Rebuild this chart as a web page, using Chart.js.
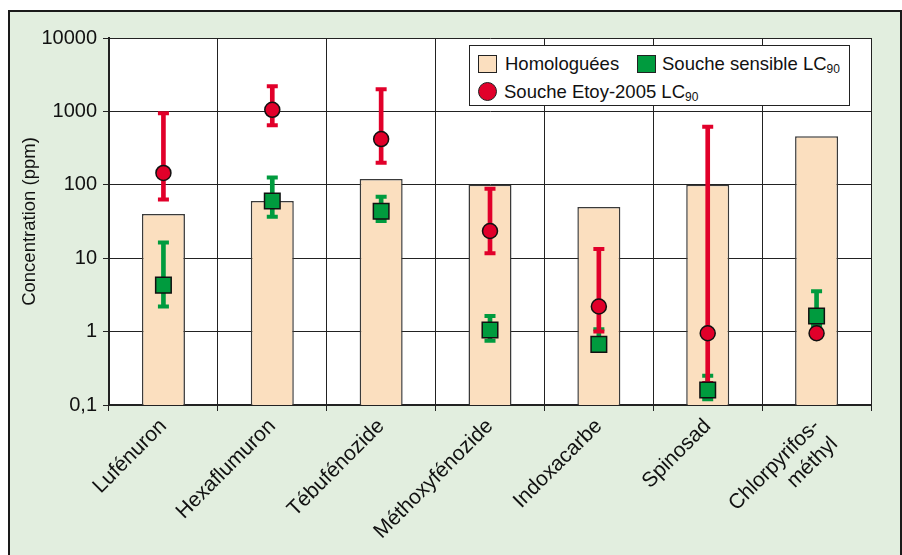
<!DOCTYPE html>
<html>
<head>
<meta charset="utf-8">
<script src="https://cdn.jsdelivr.net/npm/chart.js@4.4.0/dist/chart.umd.min.js"></script>
<style>
  html, body { margin: 0; padding: 0; background: #fff; }
  #wrap { position: relative; width: 902px; height: 555px; overflow: hidden;
          font-family: "Liberation Sans", Arial, sans-serif; }
  #frame { position: absolute; left: 8px; top: 10px; width: 890px; height: 570px;
           background: #e2eedf; border: 2px solid #1a1a1a; }
  #chart { position: absolute; left: 0; top: 0; }
  #legend { position: absolute; left: 469px; top: 45px; width: 379px; height: 59px;
            background: #fff; border: 1.5px solid #222; }
  .item { position: absolute; font-size: 18.5px; color: #111; line-height: 20px; white-space: nowrap; }
  .item sub { font-size: 12px; vertical-align: -3px; line-height: 0; }
  .sw { position: absolute; box-sizing: border-box; border: 1.5px solid #222; }
</style>
</head>
<body>
<div id="wrap">
  <div id="frame"></div>
  <canvas id="chart" width="902" height="555"></canvas>
  <div id="legend"></div>
</div>
<script>
// categories and values (ppm)
var categories = ["Lufénuron", "Hexaflumuron", "Tébufénozide", "Méthoxyfénozide",
                  "Indoxacarbe", "Spinosad", ["Chlorpyrifos-", "méthyl"]];
var homologuees = [40, 60, 120, 100, 50, 100, 460];
var sensible = [4.3, 60, 43.5, 1.05, 0.67, 0.16, 1.63];
var sensibleLow = [2.2, 36.7, 32, 0.75, 0.6, 0.12, 1.2];
var sensibleHigh = [16.4, 126, 69, 1.63, 1.08, 0.25, 3.54];
var etoy = [145, 1050, 420, 23.5, 2.2, 0.95, 0.95];
var etoyLow = [63, 650, 200, 11.7, 1.0, 0.2, null];
var etoyHigh = [940, 2200, 2000, 88, 13.3, 620, null];
var yTickValues = [0.1, 1, 10, 100, 1000, 10000];
var yTickLabels = ["0,1", "1", "10", "100", "1000", "10000"];
var seriesLabels = ["Homologuées", "Souche sensible LC", "Souche Etoy-2005 LC"];

const PEACH = "#fbdfbf";
const GREEN = "#009b3e";
const RED = "#e1002a";
const FONT = "'Liberation Sans', Arial, sans-serif";

function ranges(lo, hi) {
  return lo.map((l, i) => (l == null ? null : [l, hi[i]]));
}

// white plot area
const plotBackground = {
  id: "plotBackground",
  beforeDraw(chart) {
    const a = chart.chartArea;
    chart.ctx.save();
    chart.ctx.fillStyle = "#fff";
    chart.ctx.fillRect(a.left, a.top, a.right - a.left, a.bottom - a.top);
    chart.ctx.restore();
  }
};

function capSet(data, color, order) {
  return {
    type: "line", data: data, showLine: false, order: order,
    pointStyle: "line", pointRadius: 5.5, pointHoverRadius: 5.5,
    pointBorderWidth: 4, borderColor: color, pointBorderColor: color
  };
}

const chart = new Chart(document.getElementById("chart"), {
  type: "bar",
  data: {
    labels: categories,
    datasets: [
      {
        label: seriesLabels[0], data: homologuees, order: 10, grouped: false,
        backgroundColor: PEACH, borderColor: "#3a3a3a", borderWidth: 1.5,
        barPercentage: 0.5, categoryPercentage: 0.79
      },
      // green error bars
      { type: "bar", data: ranges(sensibleLow, sensibleHigh), order: 9, grouped: false,
        backgroundColor: GREEN, barThickness: 4 },
      capSet(sensibleHigh, GREEN, 8),
      capSet(sensibleLow, GREEN, 8),
      // red error bars
      { type: "bar", data: ranges(etoyLow, etoyHigh), order: 7, grouped: false,
        backgroundColor: RED, barThickness: 4 },
      capSet(etoyHigh, RED, 6),
      capSet(etoyLow, RED, 6),
      {
        type: "line", label: seriesLabels[1], data: sensible, showLine: false, order: 5,
        pointStyle: "rect", pointRadius: 11, pointHoverRadius: 11,
        backgroundColor: GREEN, borderColor: "#111", borderWidth: 1.5
      },
      {
        type: "line", label: seriesLabels[2], data: etoy, showLine: false, order: 4,
        pointStyle: "circle", pointRadius: 7.5, pointHoverRadius: 7.5,
        backgroundColor: RED, borderColor: "#111", borderWidth: 1.5
      }
    ]
  },
  options: {
    responsive: false,
    animation: false,
    layout: { padding: { left: 12, top: 38, right: 31, bottom: 0 } },
    plugins: { legend: { display: false }, tooltip: { enabled: false } },
    scales: {
      x: {
        type: "category",
        offset: true,
        afterFit: (scale) => { scale.height = 150; },
        grid: { offset: true, color: "#222", lineWidth: 1, tickLength: 6 },
        border: { color: "#222", width: 2 },
        ticks: {
          autoSkip: false, maxRotation: 45, minRotation: 45, padding: 3,
          color: "#111", font: { family: FONT, size: 21 }
        }
      },
      y: {
        type: "logarithmic",
        min: 0.1, max: 10000,
        afterFit: (scale) => { scale.width = 97; },
        afterBuildTicks: (scale) => { scale.ticks = yTickValues.map((v) => ({ value: v })); },
        grid: { color: "#222", lineWidth: 1, tickLength: 6 },
        border: { color: "#222", width: 2 },
        ticks: {
          padding: 6, color: "#111", font: { family: FONT, size: 20 },
          callback: (value, index) => yTickLabels[index]
        },
        title: {
          display: true, text: "Concentration (ppm)", color: "#111",
          font: { family: FONT, size: 18.5 }, padding: { top: 7, bottom: 0 }
        }
      }
    }
  },
  plugins: [plotBackground]
});

// legend box, drawn in HTML so the LC90 subscripts stay real text
(function buildLegend() {
  const box = document.getElementById("legend");
  const entries = [
    { text: seriesLabels[0], sub: "", x: 8, y: 8, kind: "rect", color: PEACH, tx: 35 },
    { text: seriesLabels[1], sub: "90", x: 167, y: 8, kind: "rect", color: GREEN, tx: 192 },
    { text: seriesLabels[2], sub: "90", x: 8, y: 36, kind: "circle", color: RED, tx: 34 }
  ];
  entries.forEach((e) => {
    const sw = document.createElement("div");
    sw.className = "sw";
    sw.style.background = e.color;
    if (e.kind == "rect") {
      sw.style.left = e.x + "px"; sw.style.top = e.y + 1 + "px";
      sw.style.width = "19px"; sw.style.height = "18px";
    } else {
      sw.style.left = e.x + "px"; sw.style.top = e.y + "px";
      sw.style.width = "19px"; sw.style.height = "19px"; sw.style.borderRadius = "50%";
    }
    box.appendChild(sw);
    const t = document.createElement("div");
    t.className = "item";
    t.style.left = e.tx + "px"; t.style.top = e.y + "px";
    t.innerHTML = e.text + (e.sub ? "<sub>" + e.sub + "</sub>" : "");
    box.appendChild(t);
  });
})();
</script>
</body>
</html>
